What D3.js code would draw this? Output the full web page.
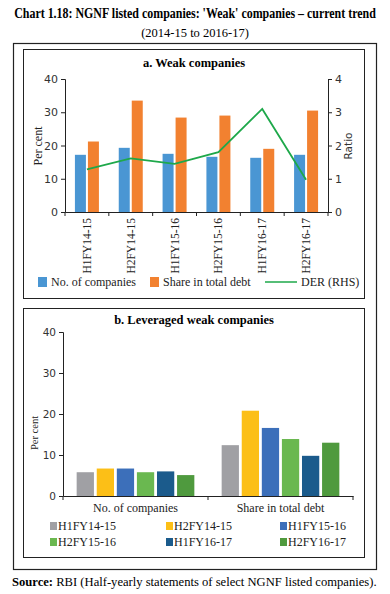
<!DOCTYPE html>
<html><head><meta charset="utf-8">
<script src="https://cdn.jsdelivr.net/npm/d3@7"></script>
<style>
html,body{margin:0;padding:0;background:#fff;}
svg{display:block;}
</style></head>
<body>
<script>
// ---- Data ----
const periods = ["H1FY14-15","H2FY14-15","H1FY15-16","H2FY15-16","H1FY16-17","H2FY16-17"];
const noOfCompanies = [17.2, 19.3, 17.5, 16.6, 16.3, 17.2];
const shareInDebt   = [21.2, 33.5, 28.4, 29.0, 19.0, 30.5];
const derRHS        = [1.28, 1.61, 1.45, 1.80, 3.10, 0.97];
const leftTicksA = [0,10,20,30,40];
const rightTicksA = [0,1,2,3,4];

const groupsB = ["No. of companies","Share in total debt"];
const leveragedNo    = [5.8, 6.7, 6.7, 5.8, 6.0, 5.1];
const leveragedShare = [12.4, 20.8, 16.6, 13.9, 9.8, 13.0];
const ticksB = [0,10,20,30,40];

const colA = {blue:"#4a96d3", orange:"#f28130", green:"#1ea84a"};
const colB = ["#a0a0a4","#fcbf17","#3c6fba","#6ab850","#1b5b8c","#4f9a3e"];

const serif = "'Liberation Serif','DejaVu Serif',serif";
const sans = "'DejaVu Sans','Noto Sans',sans-serif";

const W = 390, H = 594;
const svg = d3.select("body").append("svg").attr("width",W).attr("height",H);

// Titles
const title = svg.append("text").attr("x",0).attr("y",0).attr("text-anchor","middle")
  .attr("font-family",serif).attr("font-weight","bold").attr("font-size",14)
  .text("Chart 1.18: NGNF listed companies: 'Weak' companies – current trend");
const tl = title.node().getComputedTextLength();
const sx = Math.min(1, 362 / tl);
title.attr("transform",`translate(195,18) scale(${sx},1)`);
svg.append("text").attr("x",195).attr("y",37).attr("text-anchor","middle")
  .attr("font-family",serif).attr("font-size",12.5)
  .text("(2014-15 to 2016-17)");

// Frames
svg.append("rect").attr("x",13.5).attr("y",43.5).attr("width",363).attr("height",526)
  .attr("fill","none").attr("stroke","#222").attr("stroke-width",1.2);
svg.append("rect").attr("x",23.5).attr("y",49.5).attr("width",341).attr("height",249)
  .attr("fill","none").attr("stroke","#222").attr("stroke-width",1);
svg.append("rect").attr("x",23.5).attr("y",308.5).attr("width",341).attr("height",249)
  .attr("fill","none").attr("stroke","#222").attr("stroke-width",1);

// Source
const src = svg.append("text").attr("x",12).attr("y",586).attr("font-family",serif).attr("font-size",12.6);
src.append("tspan").attr("font-weight","bold").text("Source:");
src.append("tspan").text(" RBI (Half-yearly statements of select NGNF listed companies).");

function styleAxis(g){
  g.selectAll("path,line").attr("stroke","#222");
  g.selectAll("text").attr("font-family",sans).attr("font-size",10).attr("fill","#333");
}

// ---- Panel a ----
(function(){
  const x0 = 65, x1 = 328, yTop = 79, yBot = 212;
  svg.append("text").attr("x",194).attr("y",67).attr("text-anchor","middle")
    .attr("font-family",serif).attr("font-weight","bold").attr("font-size",12.5)
    .text("a. Weak companies");
  const x = d3.scaleBand().domain(periods).range([x0,x1]).paddingInner(0).paddingOuter(0);
  const y = d3.scaleLinear().domain([0,40]).range([yBot,yTop]);
  const yR = d3.scaleLinear().domain([0,4]).range([yBot,yTop]);
  const bw = 11, gap = 2;
  const g = svg.append("g");
  g.selectAll(".b1").data(periods).join("rect")
    .attr("x",d=>x(d)+x.bandwidth()/2-bw-gap/2).attr("width",bw)
    .attr("y",(d,i)=>y(noOfCompanies[i])).attr("height",(d,i)=>yBot-y(noOfCompanies[i]))
    .attr("fill",colA.blue);
  g.selectAll(".b2").data(periods).join("rect")
    .attr("x",d=>x(d)+x.bandwidth()/2+gap/2).attr("width",bw)
    .attr("y",(d,i)=>y(shareInDebt[i])).attr("height",(d,i)=>yBot-y(shareInDebt[i]))
    .attr("fill",colA.orange);
  const line = d3.line().x((d,i)=>x(periods[i])+x.bandwidth()/2).y(d=>yR(d));
  g.append("path").attr("d",line(derRHS)).attr("fill","none").attr("stroke",colA.green).attr("stroke-width",1.8);

  const ax = svg.append("g").attr("transform",`translate(${x0},0)`)
    .call(d3.axisLeft(y).tickValues(leftTicksA).tickFormat(d3.format("d")).tickSize(4).tickPadding(3));
  styleAxis(ax); ax.selectAll("text").attr("font-size",11);
  const axR = svg.append("g").attr("transform",`translate(${x1},0)`)
    .call(d3.axisRight(yR).tickValues(rightTicksA).tickFormat(d3.format("d")).tickSize(4).tickPadding(3));
  styleAxis(axR); axR.selectAll("text").attr("font-size",11);
  const axB = svg.append("g").attr("transform",`translate(0,${yBot})`)
    .call(d3.axisBottom(x).tickSize(4).tickSizeOuter(0).tickFormat(""));
  styleAxis(axB);
  axB.selectAll(".tick").remove();
  axB.selectAll(".bt").data(periods.concat(["end"])).join("line")
    .attr("x1",(d,i)=> i<periods.length ? x(d) : x1).attr("x2",(d,i)=> i<periods.length ? x(d) : x1)
    .attr("y1",0).attr("y2",4).attr("stroke","#222");
  svg.append("g").selectAll("text").data(periods).join("text")
    .attr("transform",d=>`translate(${x(d)+x.bandwidth()/2+4},218) rotate(-90)`)
    .attr("text-anchor","end").attr("font-family",serif).attr("font-size",11.5).attr("fill","#222")
    .text(d=>d);
  svg.append("text").attr("transform","translate(42,146) rotate(-90)").attr("text-anchor","middle")
    .attr("font-family",serif).attr("font-size",12).attr("fill","#222").text("Per cent");
  svg.append("text").attr("transform","translate(352,146) rotate(-90)").attr("text-anchor","middle")
    .attr("font-family",sans).attr("font-size",10.5).attr("fill","#333").text("Ratio");

  // legend
  const ly = 282;
  svg.append("rect").attr("x",38).attr("y",ly-5).attr("width",9).attr("height",10).attr("fill",colA.blue);
  svg.append("text").attr("x",51).attr("y",ly+4).attr("font-family",serif).attr("font-size",12).attr("fill","#222").text("No. of companies");
  svg.append("rect").attr("x",150).attr("y",ly-5).attr("width",9).attr("height",10).attr("fill",colA.orange);
  svg.append("text").attr("x",163).attr("y",ly+4).attr("font-family",serif).attr("font-size",12).attr("fill","#222").text("Share in total debt");
  svg.append("line").attr("x1",265).attr("x2",297).attr("y1",ly).attr("y2",ly).attr("stroke",colA.green).attr("stroke-width",1.5);
  svg.append("text").attr("x",301).attr("y",ly+4).attr("font-family",serif).attr("font-size",12).attr("fill","#222").text("DER (RHS)");
})();

// ---- Panel b ----
(function(){
  const x0 = 63, x1 = 353, yTop = 332, yBot = 496;
  svg.append("text").attr("x",194).attr("y",324).attr("text-anchor","middle")
    .attr("font-family",serif).attr("font-weight","bold").attr("font-size",12.5)
    .text("b. Leveraged weak companies");
  const x = d3.scaleBand().domain(groupsB).range([x0,x1]);
  const xi = d3.scaleBand().domain(periods).range([0,x.bandwidth()]).paddingInner(0.14).paddingOuter(0.68);
  const y = d3.scaleLinear().domain([0,40]).range([yBot,yTop]);
  const data = [leveragedNo, leveragedShare];
  const gg = svg.append("g").selectAll("g").data(groupsB).join("g")
    .attr("transform",d=>`translate(${x(d)},0)`);
  gg.selectAll("rect").data((d,gi)=>periods.map((p,i)=>({p,i,v:data[gi][i]}))).join("rect")
    .attr("x",d=>xi(d.p)).attr("width",xi.bandwidth())
    .attr("y",d=>y(d.v)).attr("height",d=>yBot-y(d.v)).attr("fill",d=>colB[d.i]);

  const ax = svg.append("g").attr("transform",`translate(${x0},0)`)
    .call(d3.axisLeft(y).tickValues(ticksB).tickSize(4).tickPadding(3));
  styleAxis(ax); ax.selectAll("text").attr("font-size",10.5);
  const axB = svg.append("g").attr("transform",`translate(0,${yBot})`)
    .call(d3.axisBottom(x).tickSize(0).tickSizeOuter(0).tickPadding(7));
  styleAxis(axB);
  axB.selectAll("text").attr("font-family",serif).attr("font-size",12).attr("fill","#222");
  axB.selectAll(".bt").data([x0, x(groupsB[1]), x1]).join("line")
    .attr("x1",d=>d).attr("x2",d=>d).attr("y1",0).attr("y2",4).attr("stroke","#222");
  svg.append("text").attr("transform","translate(38,433) rotate(-90)").attr("text-anchor","middle")
    .attr("font-family",serif).attr("font-size",10.5).attr("fill","#222").text("Per cent");

  // legend
  const cols = [50,166,280], rows = [526,542];
  const lg = svg.append("g").selectAll("g").data(periods).join("g")
    .attr("transform",(d,i)=>`translate(${cols[i%3]},${rows[Math.floor(i/3)]})`);
  lg.append("rect").attr("x",0).attr("y",-4).attr("width",7).attr("height",8).attr("fill",(d,i)=>colB[i]);
  lg.append("text").attr("x",8).attr("y",4).attr("font-family",serif).attr("font-size",12).attr("fill","#222").text(d=>d);
})();
</script>
</body></html>
